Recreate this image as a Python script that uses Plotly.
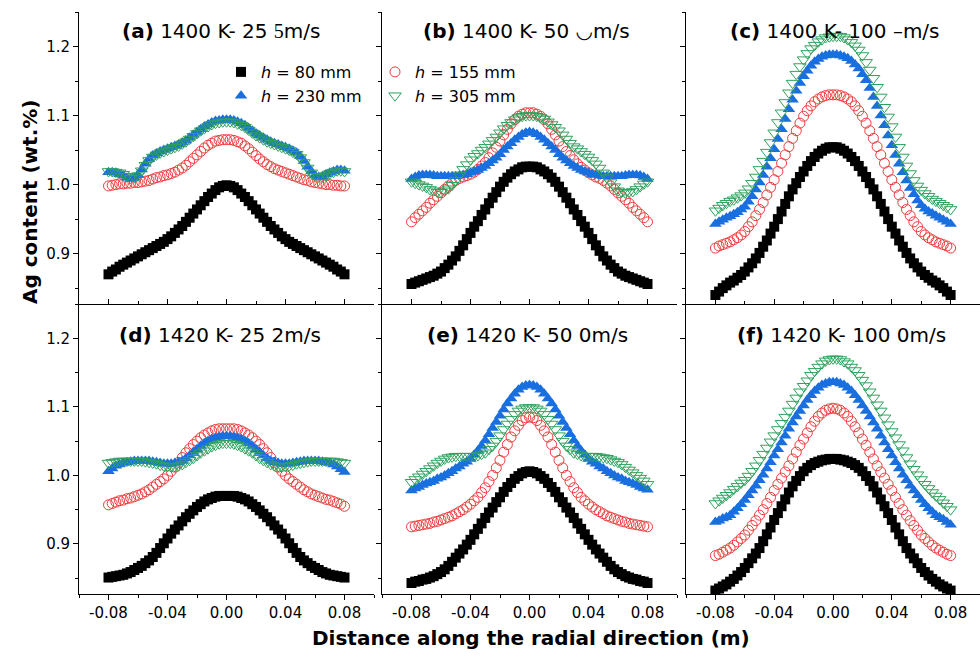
import plotly.graph_objects as go

# ---------------- data ----------------
X = [-0.0800, -0.0775, -0.0750, -0.0725, -0.0700, -0.0675, -0.0650, -0.0625, -0.0600, -0.0575, -0.0550,
     -0.0525, -0.0500, -0.0475, -0.0450, -0.0425, -0.0400, -0.0375, -0.0350, -0.0325, -0.0300, -0.0275,
     -0.0250, -0.0225, -0.0200, -0.0175, -0.0150, -0.0125, -0.0100, -0.0075, -0.0050, -0.0025, 0.0000,
     0.0025, 0.0050, 0.0075, 0.0100, 0.0125, 0.0150, 0.0175, 0.0200, 0.0225, 0.0250, 0.0275, 0.0300,
     0.0325, 0.0350, 0.0375, 0.0400, 0.0425, 0.0450, 0.0475, 0.0500, 0.0525, 0.0550, 0.0575, 0.0600,
     0.0625, 0.0650, 0.0675, 0.0700, 0.0725, 0.0750, 0.0775, 0.0800]

XTICKS = [-0.08, -0.04, 0.00, 0.04, 0.08]
XTICKTEXT = ["-0.08", "-0.04", "0.00", "0.04", "0.08"]
YTICKS = [0.9, 1.0, 1.1, 1.2]
YTICKTEXT = ["0.9", "1.0", "1.1", "1.2"]

LABELS = ["<i>h</i> = 80 mm", "<i>h</i> = 155 mm", "<i>h</i> = 230 mm", "<i>h</i> = 305 mm"]

TITLES = [
    "<b>(a)</b> 1400 K- 25 <span style='font-family:Liberation Serif'>5</span>m/s",
    "<b>(b)</b> 1400 K- 50 \u25e1m/s",
    "<b>(c)</b> 1400 K- 100 \u2013m/s",
    "<b>(d)</b> 1420 K- 25 2m/s",
    "<b>(e)</b> 1420 K- 50 0m/s",
    "<b>(f)</b> 1420 K- 100 0m/s",
]

# panel (a) 1400 K - 25
a_80 = [0.870, 0.874, 0.877, 0.881, 0.884, 0.887, 0.890, 0.893, 0.896, 0.899, 0.902, 0.905, 0.908, 0.911, 0.914, 0.917,
        0.921, 0.925, 0.930, 0.935, 0.940, 0.946, 0.952, 0.958, 0.964, 0.970, 0.976, 0.982, 0.987, 0.992, 0.996, 0.998, 0.999,
        0.998, 0.996, 0.992, 0.987, 0.982, 0.976, 0.970, 0.964, 0.958, 0.952, 0.946, 0.940, 0.935, 0.930, 0.925, 0.921,
        0.917, 0.914, 0.911, 0.908, 0.905, 0.902, 0.899, 0.896, 0.893, 0.890, 0.887, 0.884, 0.881, 0.877, 0.874, 0.870]
a_155 = [0.998, 0.999, 1.000, 1.001, 1.001, 1.002, 1.002, 1.003, 1.003, 1.004, 1.005, 1.006, 1.008, 1.010, 1.011, 1.013,
         1.014, 1.016, 1.018, 1.021, 1.024, 1.028, 1.033, 1.038, 1.043, 1.048, 1.053, 1.057, 1.060, 1.063, 1.064, 1.065, 1.065,
         1.065, 1.064, 1.062, 1.060, 1.056, 1.052, 1.047, 1.042, 1.037, 1.033, 1.029, 1.026, 1.023, 1.021, 1.019, 1.017,
         1.015, 1.013, 1.011, 1.009, 1.007, 1.006, 1.004, 1.003, 1.002, 1.001, 1.000, 1.000, 0.999, 0.999, 0.998, 0.998]
a_230 = [1.018, 1.018, 1.017, 1.015, 1.013, 1.010, 1.008, 1.010, 1.014, 1.022, 1.030, 1.037, 1.042, 1.045, 1.048, 1.050,
         1.052, 1.054, 1.056, 1.058, 1.061, 1.064, 1.068, 1.072, 1.076, 1.080, 1.084, 1.087, 1.090, 1.092, 1.093, 1.094, 1.094,
         1.094, 1.093, 1.091, 1.089, 1.086, 1.082, 1.078, 1.074, 1.071, 1.068, 1.065, 1.062, 1.060, 1.058, 1.056, 1.054,
         1.052, 1.049, 1.046, 1.041, 1.034, 1.026, 1.019, 1.013, 1.011, 1.012, 1.015, 1.017, 1.019, 1.021, 1.021, 1.020]
a_305 = [1.019, 1.019, 1.018, 1.017, 1.015, 1.012, 1.009, 1.010, 1.013, 1.020, 1.028, 1.035, 1.040, 1.043, 1.046, 1.048,
         1.050, 1.052, 1.054, 1.056, 1.059, 1.062, 1.066, 1.070, 1.074, 1.078, 1.081, 1.084, 1.087, 1.089, 1.090, 1.091, 1.091,
         1.091, 1.090, 1.088, 1.086, 1.083, 1.079, 1.075, 1.071, 1.068, 1.065, 1.062, 1.060, 1.058, 1.056, 1.054, 1.052,
         1.050, 1.047, 1.044, 1.039, 1.032, 1.024, 1.017, 1.012, 1.011, 1.011, 1.013, 1.016, 1.018, 1.020, 1.020, 1.019]

# panel (b) 1400 K - 50
b_80 = [0.856, 0.858, 0.860, 0.862, 0.864, 0.866, 0.868, 0.871, 0.874, 0.879, 0.884, 0.890, 0.896, 0.904, 0.912, 0.921,
        0.930, 0.939, 0.947, 0.956, 0.964, 0.973, 0.981, 0.989, 0.997, 1.004, 1.010, 1.015, 1.019, 1.022, 1.025, 1.026, 1.026,
        1.026, 1.025, 1.022, 1.019, 1.015, 1.010, 1.004, 0.997, 0.989, 0.981, 0.973, 0.964, 0.956, 0.947, 0.939, 0.930,
        0.921, 0.912, 0.904, 0.896, 0.890, 0.884, 0.879, 0.874, 0.871, 0.868, 0.866, 0.864, 0.862, 0.860, 0.858, 0.856]
b_155 = [0.946, 0.952, 0.957, 0.962, 0.967, 0.973, 0.978, 0.983, 0.988, 0.993, 0.998, 1.002, 1.006, 1.009, 1.011, 1.013,
         1.015, 1.018, 1.022, 1.027, 1.032, 1.039, 1.046, 1.054, 1.063, 1.072, 1.080, 1.088, 1.094, 1.099, 1.102, 1.104, 1.104,
         1.104, 1.102, 1.099, 1.094, 1.088, 1.080, 1.072, 1.063, 1.055, 1.048, 1.042, 1.036, 1.030, 1.025, 1.021, 1.017,
         1.014, 1.011, 1.009, 1.006, 1.002, 0.998, 0.993, 0.988, 0.983, 0.978, 0.973, 0.967, 0.962, 0.957, 0.952, 0.946]
b_230 = [1.008, 1.011, 1.013, 1.014, 1.014, 1.014, 1.013, 1.012, 1.012, 1.012, 1.012, 1.012, 1.012, 1.013, 1.014, 1.015,
         1.017, 1.019, 1.021, 1.024, 1.027, 1.031, 1.035, 1.039, 1.044, 1.050, 1.055, 1.060, 1.065, 1.069, 1.073, 1.075, 1.076,
         1.075, 1.073, 1.069, 1.065, 1.060, 1.055, 1.050, 1.044, 1.039, 1.035, 1.031, 1.027, 1.024, 1.021, 1.019, 1.017,
         1.015, 1.014, 1.013, 1.012, 1.012, 1.012, 1.012, 1.012, 1.012, 1.013, 1.014, 1.014, 1.014, 1.013, 1.011, 1.008]
b_305 = [1.004, 1.002, 1.000, 0.998, 0.996, 0.993, 0.991, 0.989, 0.989, 0.991, 0.994, 0.999, 1.006, 1.014, 1.022, 1.029,
         1.036, 1.041, 1.045, 1.050, 1.054, 1.059, 1.064, 1.069, 1.075, 1.081, 1.086, 1.090, 1.094, 1.097, 1.099, 1.100, 1.100,
         1.100, 1.099, 1.097, 1.095, 1.091, 1.087, 1.083, 1.078, 1.072, 1.066, 1.060, 1.055, 1.052, 1.048, 1.044, 1.040,
         1.035, 1.030, 1.024, 1.017, 1.010, 1.003, 0.997, 0.991, 0.989, 0.988, 0.989, 0.990, 0.993, 0.997, 1.001, 1.004]

# panel (c) 1400 K - 100
c_80 = [0.840, 0.845, 0.850, 0.854, 0.858, 0.861, 0.865, 0.869, 0.874, 0.880, 0.886, 0.893, 0.901, 0.910, 0.919, 0.929,
        0.939, 0.950, 0.961, 0.972, 0.983, 0.993, 1.002, 1.011, 1.019, 1.027, 1.034, 1.040, 1.045, 1.049, 1.052, 1.054, 1.054,
        1.054, 1.052, 1.049, 1.045, 1.040, 1.034, 1.027, 1.019, 1.011, 1.002, 0.993, 0.983, 0.972, 0.961, 0.950, 0.939,
        0.929, 0.919, 0.910, 0.901, 0.893, 0.886, 0.880, 0.874, 0.869, 0.865, 0.861, 0.858, 0.854, 0.850, 0.845, 0.840]
c_155 = [0.908, 0.911, 0.913, 0.915, 0.917, 0.920, 0.923, 0.927, 0.932, 0.939, 0.946, 0.955, 0.964, 0.974, 0.985, 0.996,
         1.007, 1.019, 1.031, 1.043, 1.055, 1.067, 1.078, 1.089, 1.099, 1.107, 1.114, 1.120, 1.124, 1.127, 1.129, 1.130, 1.130,
         1.130, 1.129, 1.127, 1.124, 1.120, 1.114, 1.107, 1.099, 1.089, 1.078, 1.067, 1.055, 1.043, 1.031, 1.019, 1.007,
         0.996, 0.985, 0.974, 0.964, 0.955, 0.946, 0.939, 0.932, 0.927, 0.923, 0.920, 0.917, 0.915, 0.913, 0.911, 0.908]
c_230 = [0.943, 0.946, 0.949, 0.952, 0.954, 0.957, 0.960, 0.964, 0.968, 0.975, 0.983, 0.993, 1.003, 1.014, 1.026, 1.038,
         1.051, 1.066, 1.080, 1.095, 1.109, 1.123, 1.136, 1.147, 1.157, 1.165, 1.172, 1.178, 1.182, 1.185, 1.187, 1.188, 1.188,
         1.188, 1.187, 1.185, 1.183, 1.179, 1.174, 1.168, 1.160, 1.151, 1.140, 1.127, 1.114, 1.100, 1.086, 1.071, 1.057,
         1.043, 1.030, 1.018, 1.006, 0.995, 0.986, 0.977, 0.970, 0.965, 0.961, 0.958, 0.955, 0.952, 0.949, 0.946, 0.943]
c_305 = [0.962, 0.966, 0.970, 0.973, 0.976, 0.978, 0.981, 0.984, 0.988, 0.994, 1.002, 1.011, 1.022, 1.034, 1.047, 1.061,
         1.075, 1.090, 1.104, 1.119, 1.133, 1.147, 1.160, 1.171, 1.181, 1.190, 1.197, 1.202, 1.207, 1.210, 1.213, 1.214, 1.215,
         1.215, 1.215, 1.213, 1.210, 1.206, 1.201, 1.195, 1.187, 1.177, 1.166, 1.154, 1.141, 1.127, 1.112, 1.098, 1.084,
         1.069, 1.054, 1.040, 1.027, 1.016, 1.006, 0.998, 0.992, 0.987, 0.983, 0.979, 0.976, 0.973, 0.970, 0.967, 0.964]

# panel (d) 1420 K - 25
d_80 = [0.851, 0.852, 0.853, 0.854, 0.855, 0.857, 0.859, 0.862, 0.865, 0.868, 0.872, 0.876, 0.881, 0.887, 0.894, 0.901,
        0.908, 0.915, 0.921, 0.927, 0.933, 0.939, 0.944, 0.949, 0.954, 0.958, 0.962, 0.965, 0.967, 0.969, 0.970, 0.970, 0.970,
        0.970, 0.970, 0.969, 0.967, 0.965, 0.962, 0.958, 0.954, 0.949, 0.944, 0.939, 0.933, 0.927, 0.921, 0.915, 0.908,
        0.901, 0.894, 0.887, 0.881, 0.876, 0.872, 0.868, 0.865, 0.862, 0.859, 0.857, 0.855, 0.854, 0.853, 0.852, 0.851]
d_155 = [0.957, 0.959, 0.961, 0.963, 0.964, 0.966, 0.967, 0.969, 0.971, 0.973, 0.976, 0.979, 0.983, 0.987, 0.991, 0.995,
         1.000, 1.006, 1.012, 1.019, 1.026, 1.033, 1.039, 1.045, 1.050, 1.055, 1.059, 1.062, 1.065, 1.067, 1.068, 1.068, 1.068,
         1.068, 1.068, 1.067, 1.065, 1.062, 1.059, 1.055, 1.050, 1.045, 1.039, 1.033, 1.026, 1.019, 1.012, 1.006, 1.000,
         0.995, 0.991, 0.987, 0.983, 0.979, 0.976, 0.973, 0.971, 0.969, 0.967, 0.965, 0.964, 0.962, 0.960, 0.958, 0.955]
d_230 = [1.006, 1.010, 1.014, 1.016, 1.018, 1.019, 1.020, 1.021, 1.021, 1.021, 1.021, 1.021, 1.020, 1.019, 1.018, 1.017,
         1.017, 1.017, 1.018, 1.019, 1.021, 1.025, 1.029, 1.034, 1.038, 1.043, 1.047, 1.050, 1.053, 1.055, 1.056, 1.057, 1.057,
         1.057, 1.056, 1.055, 1.053, 1.050, 1.047, 1.043, 1.038, 1.034, 1.029, 1.025, 1.021, 1.019, 1.018, 1.017, 1.017,
         1.017, 1.018, 1.019, 1.020, 1.021, 1.021, 1.021, 1.021, 1.021, 1.020, 1.019, 1.018, 1.016, 1.013, 1.009, 1.005]
d_305 = [1.018, 1.019, 1.020, 1.021, 1.021, 1.021, 1.021, 1.021, 1.021, 1.021, 1.020, 1.019, 1.018, 1.017, 1.015, 1.014,
         1.013, 1.013, 1.013, 1.014, 1.016, 1.019, 1.022, 1.025, 1.029, 1.033, 1.036, 1.039, 1.042, 1.044, 1.046, 1.047, 1.047,
         1.047, 1.046, 1.044, 1.042, 1.039, 1.036, 1.033, 1.029, 1.025, 1.022, 1.019, 1.016, 1.014, 1.013, 1.013, 1.013,
         1.014, 1.015, 1.017, 1.018, 1.019, 1.020, 1.021, 1.021, 1.021, 1.021, 1.021, 1.021, 1.021, 1.020, 1.019, 1.018]

# panel (e) 1420 K - 50
e_80 = [0.843, 0.845, 0.846, 0.848, 0.849, 0.851, 0.853, 0.856, 0.859, 0.863, 0.868, 0.874, 0.880, 0.886, 0.892, 0.899,
        0.906, 0.914, 0.922, 0.930, 0.938, 0.946, 0.953, 0.961, 0.968, 0.976, 0.983, 0.989, 0.995, 0.999, 1.003, 1.005, 1.006,
        1.005, 1.003, 0.999, 0.995, 0.989, 0.983, 0.976, 0.968, 0.961, 0.953, 0.946, 0.938, 0.930, 0.922, 0.914, 0.906,
        0.899, 0.892, 0.886, 0.880, 0.874, 0.868, 0.863, 0.859, 0.856, 0.853, 0.851, 0.849, 0.848, 0.846, 0.845, 0.843]
e_155 = [0.925, 0.926, 0.927, 0.928, 0.929, 0.930, 0.932, 0.933, 0.935, 0.937, 0.939, 0.941, 0.944, 0.947, 0.950, 0.954,
         0.958, 0.963, 0.968, 0.975, 0.982, 0.991, 1.000, 1.011, 1.022, 1.034, 1.045, 1.056, 1.065, 1.073, 1.080, 1.084, 1.085,
         1.084, 1.080, 1.073, 1.065, 1.056, 1.045, 1.034, 1.022, 1.011, 1.000, 0.991, 0.982, 0.975, 0.968, 0.963, 0.958,
         0.954, 0.950, 0.947, 0.944, 0.941, 0.939, 0.937, 0.935, 0.933, 0.932, 0.930, 0.929, 0.928, 0.927, 0.926, 0.925]
e_230 = [0.978, 0.981, 0.983, 0.986, 0.988, 0.990, 0.992, 0.995, 0.997, 1.000, 1.003, 1.006, 1.010, 1.013, 1.017, 1.020,
         1.024, 1.030, 1.036, 1.043, 1.051, 1.060, 1.069, 1.078, 1.087, 1.096, 1.105, 1.112, 1.119, 1.125, 1.129, 1.131, 1.132,
         1.131, 1.129, 1.125, 1.119, 1.112, 1.105, 1.096, 1.087, 1.078, 1.069, 1.060, 1.051, 1.043, 1.036, 1.030, 1.024,
         1.020, 1.017, 1.013, 1.010, 1.006, 1.003, 1.000, 0.997, 0.995, 0.992, 0.990, 0.988, 0.986, 0.983, 0.981, 0.979]
e_305 = [0.990, 0.994, 0.998, 1.002, 1.006, 1.010, 1.014, 1.018, 1.021, 1.024, 1.026, 1.027, 1.028, 1.028, 1.028, 1.028,
         1.028, 1.028, 1.029, 1.031, 1.033, 1.038, 1.043, 1.050, 1.058, 1.067, 1.075, 1.082, 1.089, 1.094, 1.097, 1.099, 1.099,
         1.099, 1.097, 1.094, 1.089, 1.082, 1.075, 1.067, 1.058, 1.050, 1.043, 1.038, 1.033, 1.031, 1.029, 1.028, 1.028,
         1.028, 1.028, 1.027, 1.026, 1.025, 1.023, 1.021, 1.019, 1.016, 1.012, 1.008, 1.004, 1.000, 0.996, 0.992, 0.987]

# panel (f) 1420 K - 100
f_80 = [0.832, 0.835, 0.838, 0.841, 0.845, 0.849, 0.854, 0.859, 0.865, 0.872, 0.879, 0.886, 0.894, 0.904, 0.914, 0.924,
        0.935, 0.945, 0.955, 0.965, 0.975, 0.984, 0.992, 0.999, 1.006, 1.011, 1.015, 1.018, 1.020, 1.022, 1.023, 1.024, 1.024,
        1.024, 1.023, 1.022, 1.020, 1.018, 1.015, 1.011, 1.006, 0.999, 0.992, 0.984, 0.975, 0.965, 0.955, 0.945, 0.935,
        0.924, 0.914, 0.904, 0.894, 0.886, 0.879, 0.872, 0.865, 0.859, 0.854, 0.849, 0.845, 0.841, 0.838, 0.835, 0.832]
f_155 = [0.883, 0.885, 0.888, 0.891, 0.894, 0.898, 0.903, 0.908, 0.913, 0.920, 0.927, 0.934, 0.942, 0.950, 0.959, 0.968,
         0.978, 0.987, 0.996, 1.005, 1.014, 1.024, 1.034, 1.044, 1.053, 1.062, 1.071, 1.079, 1.086, 1.091, 1.095, 1.097, 1.098,
         1.097, 1.095, 1.091, 1.086, 1.079, 1.071, 1.062, 1.053, 1.044, 1.034, 1.024, 1.014, 1.005, 0.996, 0.987, 0.978,
         0.968, 0.959, 0.950, 0.942, 0.934, 0.927, 0.920, 0.913, 0.908, 0.903, 0.898, 0.894, 0.891, 0.888, 0.885, 0.883]
f_230 = [0.932, 0.934, 0.937, 0.939, 0.942, 0.947, 0.952, 0.958, 0.964, 0.971, 0.978, 0.985, 0.993, 1.001, 1.010, 1.019,
         1.029, 1.038, 1.048, 1.058, 1.068, 1.077, 1.086, 1.094, 1.102, 1.110, 1.117, 1.123, 1.128, 1.132, 1.134, 1.136, 1.136,
         1.136, 1.134, 1.132, 1.128, 1.123, 1.117, 1.110, 1.102, 1.094, 1.086, 1.077, 1.068, 1.058, 1.048, 1.038, 1.029,
         1.019, 1.010, 1.001, 0.993, 0.985, 0.978, 0.971, 0.964, 0.958, 0.952, 0.947, 0.942, 0.939, 0.936, 0.932, 0.928]
f_305 = [0.959, 0.963, 0.967, 0.971, 0.975, 0.980, 0.984, 0.989, 0.993, 0.999, 1.006, 1.014, 1.022, 1.031, 1.040, 1.049,
         1.058, 1.067, 1.076, 1.085, 1.094, 1.104, 1.113, 1.122, 1.130, 1.138, 1.146, 1.152, 1.158, 1.163, 1.167, 1.169, 1.170,
         1.170, 1.169, 1.166, 1.163, 1.158, 1.153, 1.146, 1.139, 1.131, 1.122, 1.113, 1.103, 1.094, 1.084, 1.074, 1.064,
         1.055, 1.045, 1.036, 1.026, 1.017, 1.009, 1.001, 0.994, 0.987, 0.981, 0.975, 0.970, 0.965, 0.960, 0.955, 0.950]

PANELS = [
    [a_80, a_155, a_230, a_305],
    [b_80, b_155, b_230, b_305],
    [c_80, c_155, c_230, c_305],
    [d_80, d_155, d_230, d_305],
    [e_80, e_155, e_230, e_305],
    [f_80, f_155, f_230, f_305],
]
for p in PANELS:
    for s in p:
        assert len(s) == len(X), len(s)

# ---------------- styles ----------------
FONT = "DejaVu Sans, Liberation Sans, Arial, sans-serif"
STYLES = [
    dict(symbol="square", size=10, color="#000000", line=dict(width=0)),
    dict(symbol="circle-open", size=10, color="#ee3b3b", line=dict(width=1)),
    dict(symbol="triangle-up", size=11, color="#1a6fdf", line=dict(width=0)),
    dict(symbol="triangle-down-open", size=11, color="#2ea25d", line=dict(width=1)),
]
LEGEND_OF = ["legend", "legend2", "legend", "legend2"]

W, H = 980, 657
ML, MR, MT, MB = 79, 0, 12, 63
PW = W - ML - MR
PH = H - MT - MB

def px_x(p):
    return (p - ML) / PW

def px_y(p):
    return (H - MB - p) / PH

COLS = [(79, 374), (382, 677), (686, 981)]
ROWS = [(12, 304), (304, 594)]

fig = go.Figure()

for i, series in enumerate(PANELS):
    k = i + 1
    for j, ys in enumerate(series):
        fig.add_trace(go.Scatter(
            x=X, y=ys, mode="markers",
            marker=STYLES[j],
            name=LABELS[j],
            showlegend=(i == 0),
            legend=LEGEND_OF[j],
            xaxis="x" if k == 1 else f"x{k}",
            yaxis="y" if k == 1 else f"y{k}",
        ))

layout = dict(
    width=W, height=H,
    margin=dict(l=ML, r=MR, t=MT, b=MB, pad=0),
    paper_bgcolor="white", plot_bgcolor="white",
    font=dict(family=FONT, size=15, color="#000000"),
)

for i in range(6):
    k = i + 1
    r, c = divmod(i, 3)
    x0, x1 = COLS[c]
    y0, y1 = ROWS[r]
    xs = "" if k == 1 else str(k)
    layout[f"xaxis{xs}"] = dict(
        domain=[max(0, px_x(x0)), min(1, px_x(x1))],
        anchor=f"y{xs}",
        range=[-0.1, 0.1],
        tickvals=XTICKS, ticktext=XTICKTEXT,
        showticklabels=(r == 1),
        ticks="outside" if r == 1 else "inside",
        ticklen=5, tickwidth=1, tickcolor="#000",
        minor=dict(dtick=0.02, tick0=0, ticks="outside" if r == 1 else "inside",
                   ticklen=3, tickcolor="#000", showgrid=False),
        showline=True, linecolor="#000", linewidth=1,
        showgrid=False, zeroline=False,
        tickfont=dict(size=15, family=FONT),
    )
    layout[f"yaxis{xs}"] = dict(
        domain=[px_y(y1), px_y(y0)],
        anchor=f"x{xs}",
        range=[0.827, 1.25],
        tickvals=YTICKS, ticktext=YTICKTEXT,
        showticklabels=(c == 0),
        ticks="outside", ticklen=5, tickwidth=1, tickcolor="#000",
        minor=dict(dtick=0.05, tick0=0, ticks="outside", ticklen=3,
                   tickcolor="#000", showgrid=False),
        showline=True, linecolor="#000", linewidth=1,
        showgrid=False, zeroline=False,
        tickfont=dict(size=15, family=FONT),
    )

layout["legend"] = dict(
    x=px_x(221), y=px_y(55), xanchor="left", yanchor="top",
    bgcolor="rgba(0,0,0,0)", borderwidth=0,
    font=dict(size=16, family=FONT), tracegroupgap=0,
)
layout["legend2"] = dict(
    x=px_x(375), y=px_y(55), xanchor="left", yanchor="top",
    bgcolor="rgba(0,0,0,0)", borderwidth=0,
    font=dict(size=16, family=FONT), tracegroupgap=0,
)

TITLE_POS = [(221, 31), (526, 31), (835, 31), (220, 335), (527, 335), (841, 335)]
annotations = []
for t, (tx, ty) in zip(TITLES, TITLE_POS):
    annotations.append(dict(
        text=t, xref="paper", yref="paper", x=px_x(tx), y=px_y(ty),
        xanchor="center", yanchor="middle", showarrow=False,
        font=dict(size=20, family=FONT, color="#000"),
    ))

annotations.append(dict(
    text="<b>Ag content (wt.%)</b>", xref="paper", yref="paper",
    x=px_x(30), y=px_y(202), xanchor="center", yanchor="middle",
    textangle=-90, showarrow=False, font=dict(size=20, family=FONT, color="#000"),
))
annotations.append(dict(
    text="<b>Distance along the radial direction (m)</b>", xref="paper", yref="paper",
    x=px_x(531), y=px_y(638), xanchor="center", yanchor="middle",
    showarrow=False, font=dict(size=20, family=FONT, color="#000"),
))
layout["annotations"] = annotations

fig.update_layout(**layout)
fig.write_html("out.html")
